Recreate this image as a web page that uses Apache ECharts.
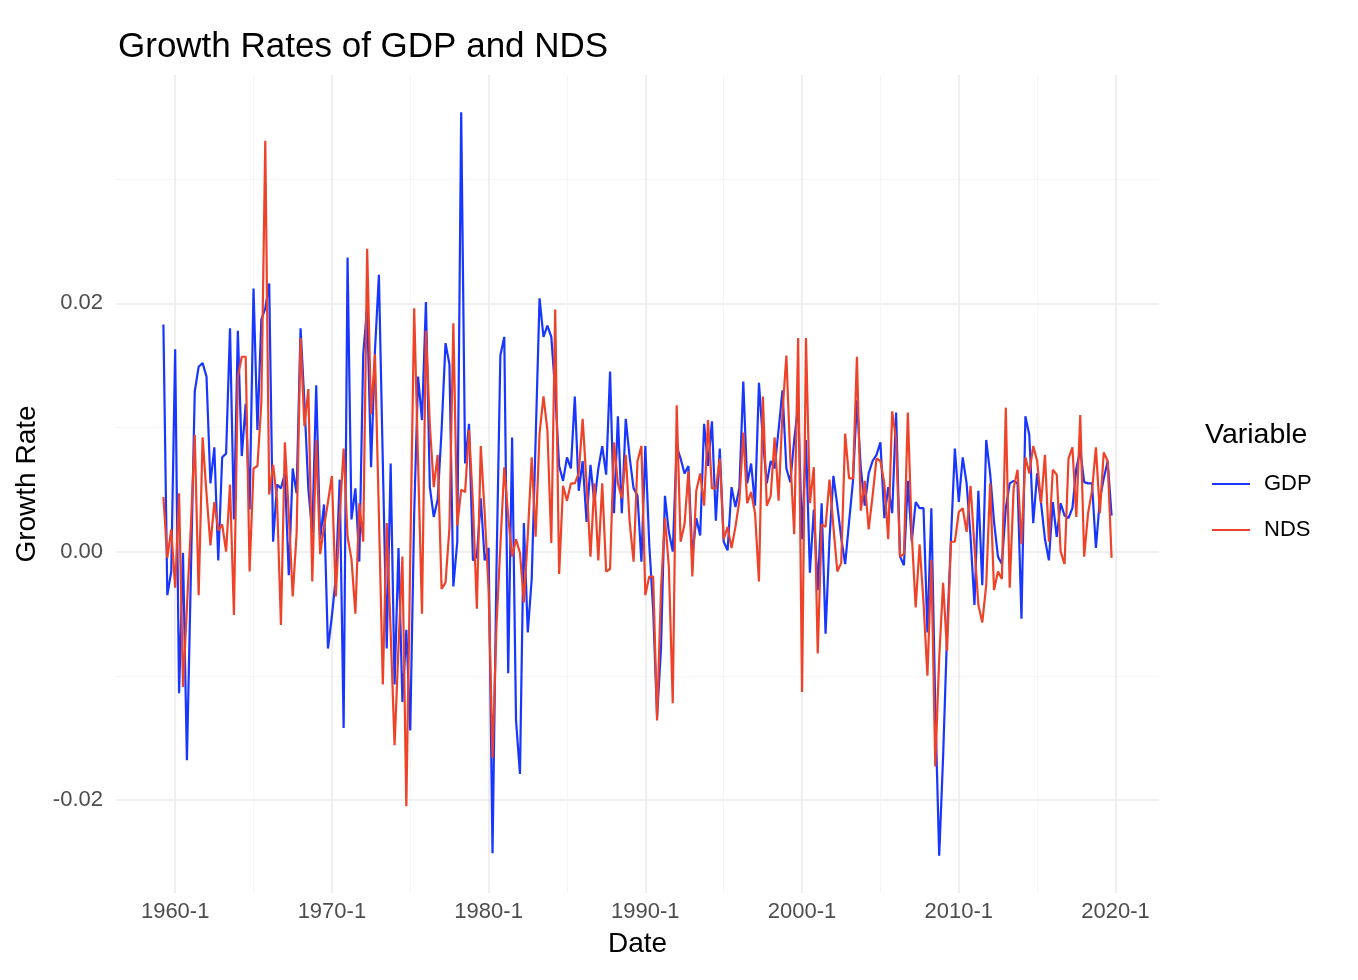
<!DOCTYPE html>
<html>
<head>
<meta charset="utf-8">
<script src="https://cdn.jsdelivr.net/npm/echarts@6/dist/echarts.min.js"></script>
<style>
  html, body { margin: 0; padding: 0; background: #fff; }
  #chart { width: 1358px; height: 980px; }
</style>
</head>
<body>
<div id="chart"></div>
<script>
// first observation: 1959 Q2, quarterly
var startYear = 1959;
var startQuarter = 2;

// quarterly growth rates
var gdp = [
  0.0183, -0.0035, -0.0016, 0.0163, -0.0114, -0.0001, -0.0168, -0.0020, 0.0129, 0.0149,
  0.0152, 0.0141, 0.0055, 0.0084, -0.0007, 0.0076, 0.0079, 0.0180, 0.0026, 0.0178,
  0.0077, 0.0119, 0.0034, 0.0212, 0.0098, 0.0187, 0.0196, 0.0216, 0.0008, 0.0054,
  0.0051, 0.0063, -0.0019, 0.0067, 0.0047, 0.0180, 0.0120, 0.0050, 0.0015, 0.0134,
  0.0010, 0.0038, -0.0078, -0.0052, -0.0021, 0.0058, -0.0142, 0.0237, 0.0026, 0.0051,
  -0.0008, 0.0159, 0.0197, 0.0068, 0.0162, 0.0223, 0.0072, -0.0078, 0.0071, -0.0107,
  0.0003, -0.0121, -0.0063, -0.0144, 0.0030, 0.0141, 0.0106, 0.0201, 0.0052, 0.0028,
  0.0042, 0.0098, 0.0168, 0.0151, -0.0028, 0.0008, 0.0354, 0.0071, 0.0103, -0.0007,
  -0.0004, 0.0043, -0.0007, 0.0003, -0.0243, -0.0015, 0.0158, 0.0173, -0.0098, 0.0092,
  -0.0136, -0.0179, 0.0023, -0.0065, -0.0022, 0.0090, 0.0204, 0.0173, 0.0182, 0.0173,
  0.0129, 0.0069, 0.0057, 0.0076, 0.0067, 0.0125, 0.0049, 0.0073, 0.0024, 0.0070,
  0.0039, 0.0067, 0.0085, 0.0062, 0.0145, 0.0031, 0.0109, 0.0031, 0.0107, 0.0076,
  0.0051, 0.0045, -0.0008, 0.0085, 0.0006, -0.0047, -0.0133, -0.0078, 0.0045, 0.0016,
  0.0000, 0.0085, 0.0075, 0.0063, 0.0069, -0.0004, 0.0027, 0.0013, 0.0103, 0.0069,
  0.0105, 0.0025, 0.0083, 0.0008, 0.0001, 0.0052, 0.0036, 0.0051, 0.0137, 0.0055,
  0.0071, 0.0037, 0.0136, 0.0090, 0.0055, 0.0073, 0.0067, 0.0098, 0.0130, 0.0067,
  0.0056, 0.0090, 0.0118, 0.0010, 0.0090, -0.0017, 0.0034, -0.0031, 0.0039, -0.0066,
  0.0010, 0.0061, 0.0037, 0.0011, -0.0010, 0.0024, 0.0057, 0.0122, 0.0067, 0.0037,
  0.0063, 0.0073, 0.0078, 0.0088, 0.0027, 0.0052, 0.0031, 0.0112, -0.0004, -0.0011,
  0.0057, 0.0008, 0.0040, 0.0035, 0.0035, -0.0065, 0.0035, -0.0125, -0.0245, -0.0165,
  -0.0067, 0.0010, 0.0083, 0.0040, 0.0076, 0.0055, 0.0012, -0.0043, 0.0049, -0.0027,
  0.0090, 0.0063, 0.0024, -0.0004, -0.0010, 0.0035, 0.0055, 0.0057, 0.0055, -0.0054,
  0.0109, 0.0094, 0.0023, 0.0063, 0.0039, 0.0010, -0.0007, 0.0040, 0.0012, 0.0039,
  0.0029, 0.0027, 0.0035, 0.0067, 0.0082, 0.0056, 0.0055, 0.0055, 0.0003, 0.0042,
  0.0059, 0.0073, 0.0029
];

var nds = [
  0.0044, -0.0005, 0.0018, -0.0029, 0.0047, -0.0109, -0.0045, 0.0020, 0.0094, -0.0035,
  0.0092, 0.0047, 0.0005, 0.0040, 0.0017, 0.0022, 0.0000, 0.0054, -0.0051, 0.0141,
  0.0157, 0.0157, -0.0016, 0.0067, 0.0069, 0.0120, 0.0331, 0.0046, 0.0070, 0.0042,
  -0.0059, 0.0088, 0.0030, -0.0036, 0.0015, 0.0172, 0.0101, 0.0131, -0.0024, 0.0090,
  -0.0002, 0.0020, 0.0040, 0.0061, -0.0036, 0.0029, 0.0083, 0.0012, -0.0006, -0.0050,
  0.0039, 0.0008, 0.0244, 0.0111, 0.0159, 0.0030, -0.0107, 0.0023, -0.0065, -0.0156,
  -0.0077, -0.0004, -0.0205, -0.0005, 0.0196, 0.0072, -0.0050, 0.0178, 0.0102, 0.0052,
  0.0078, -0.0030, -0.0025, 0.0019, 0.0184, 0.0021, 0.0050, 0.0048, 0.0098, 0.0039,
  -0.0046, 0.0085, 0.0031, -0.0031, -0.0166, -0.0060, 0.0005, 0.0068, 0.0028, -0.0004,
  0.0010, -0.0001, -0.0041, 0.0013, 0.0076, 0.0012, 0.0095, 0.0125, 0.0098, 0.0007,
  0.0195, -0.0018, 0.0053, 0.0041, 0.0055, 0.0055, 0.0063, 0.0107, 0.0055, -0.0004,
  0.0055, -0.0007, 0.0055, -0.0016, -0.0014, 0.0088, 0.0055, 0.0043, 0.0078, 0.0024,
  -0.0008, 0.0073, 0.0085, -0.0035, -0.0020, -0.0020, -0.0136, -0.0030, 0.0027, -0.0012,
  -0.0122, 0.0118, 0.0008, 0.0022, 0.0065, -0.0020, 0.0049, 0.0063, 0.0037, 0.0106,
  0.0051, 0.0051, 0.0075, 0.0010, 0.0020, 0.0003, 0.0020, 0.0041, 0.0096, 0.0039,
  0.0048, 0.0031, -0.0024, 0.0125, 0.0037, 0.0045, 0.0092, 0.0041, 0.0112, 0.0158,
  0.0075, 0.0014, 0.0172, -0.0113, 0.0172, 0.0039, 0.0068, -0.0082, 0.0022, 0.0020,
  0.0058, 0.0020, -0.0016, -0.0009, 0.0095, 0.0059, 0.0059, 0.0157, 0.0033, 0.0057,
  0.0018, 0.0045, 0.0075, 0.0073, 0.0055, 0.0010, 0.0113, 0.0090, -0.0004, -0.0002,
  0.0112, 0.0014, -0.0045, 0.0006, -0.0041, -0.0100, -0.0007, -0.0173, -0.0086, -0.0025,
  -0.0080, 0.0008, 0.0008, 0.0032, 0.0035, 0.0016, 0.0053, 0.0004, -0.0043, -0.0057,
  -0.0027, 0.0055, -0.0031, -0.0016, -0.0022, 0.0116, -0.0029, 0.0051, 0.0066, 0.0006,
  0.0076, 0.0063, 0.0085, 0.0073, 0.0039, 0.0078, 0.0008, 0.0066, 0.0062, 0.0000,
  -0.0010, 0.0075, 0.0084, 0.0028, 0.0110, -0.0004, 0.0031, 0.0049, 0.0084, 0.0031,
  0.0080, 0.0073, -0.0005
];

// axis ticks
var xMajorTicks = [1960, 1970, 1980, 1990, 2000, 2010, 2020];
var xMinorTicks = [1965, 1975, 1985, 1995, 2005, 2015];
var yMajorTicks = [-0.02, 0, 0.02];
var yMinorTicks = [-0.01, 0.01, 0.03];

var seriesNames = ['GDP', 'NDS'];
var seriesColors = ['#1736FF', '#EE4229'];

// decimal time of the i-th quarter
function quarterTime(i) {
  return startYear + (startQuarter - 1 + i) / 4;
}

function toPoints(values) {
  return values.map(function (v, i) { return [quarterTime(i), v]; });
}

// ggplot-like 5% expansion of the data range
function expand(lo, hi) {
  var pad = (hi - lo) * 0.05;
  return [lo - pad, hi + pad];
}

var allValues = gdp.concat(nds);
var yRange = expand(Math.min.apply(null, allValues), Math.max.apply(null, allValues));
var xRange = expand(quarterTime(0), quarterTime(gdp.length - 1));

var font = 'Liberation Sans, Arial, Helvetica, sans-serif';
var majorGrid = { color: '#EBEBEB', width: 1.6 };
var minorGrid = { color: '#F4F4F4', width: 0.9 };

function axisBase(range) {
  return {
    type: 'value',
    min: range[0],
    max: range[1],
    axisLine: { show: false },
    axisTick: { show: false }
  };
}

var xMain = axisBase(xRange);
xMain.position = 'bottom';
xMain.axisTick = { show: false, customValues: xMajorTicks };
xMain.axisLabel = {
  customValues: xMajorTicks,
  formatter: function (v) { return v + '-1'; },
  color: '#4D4D4D', fontSize: 22, fontFamily: font, margin: 8
};
xMain.splitLine = { show: true, lineStyle: majorGrid };
xMain.name = 'Date';
xMain.nameLocation = 'middle';
xMain.nameGap = 37;
xMain.nameTextStyle = { color: '#000', fontSize: 28, fontFamily: font };

var xMinor = axisBase(xRange);
xMinor.position = 'top';
xMinor.axisTick = { show: false, customValues: xMinorTicks };
xMinor.axisLabel = { show: false, customValues: xMinorTicks };
xMinor.splitLine = { show: true, lineStyle: minorGrid };

var yMain = axisBase(yRange);
yMain.position = 'left';
yMain.axisTick = { show: false, customValues: yMajorTicks };
yMain.axisLabel = {
  customValues: yMajorTicks,
  formatter: function (v) { return v.toFixed(2); },
  color: '#4D4D4D', fontSize: 22, fontFamily: font, margin: 13
};
yMain.splitLine = { show: true, lineStyle: majorGrid };
yMain.name = 'Growth Rate';
yMain.nameLocation = 'middle';
yMain.nameGap = 75;
yMain.nameTextStyle = { color: '#000', fontSize: 28, fontFamily: font };

var yMinor = axisBase(yRange);
yMinor.position = 'right';
yMinor.axisTick = { show: false, customValues: yMinorTicks };
yMinor.axisLabel = { show: false, customValues: yMinorTicks };
yMinor.splitLine = { show: true, lineStyle: minorGrid };

var chart = echarts.init(document.getElementById('chart'), null, { renderer: 'canvas' });

var option = {
  animation: false,
  backgroundColor: '#fff',
  title: [
    {
      text: 'Growth Rates of GDP and NDS',
      left: 113, top: 25,
      textStyle: { color: '#000', fontSize: 35, fontWeight: 'normal', fontFamily: font }
    },
    {
      text: 'Variable',
      left: 1200, top: 416,
      textStyle: { color: '#000', fontSize: 28.5, fontWeight: 'normal', fontFamily: font }
    }
  ],
  legend: {
    orient: 'vertical',
    left: 1207, top: 468,
    itemWidth: 38, itemHeight: 22, itemGap: 24,
    icon: 'path://M0,10 L38,10 L38,12 L0,12 Z',
    textStyle: { color: '#000', fontSize: 22, fontFamily: font, padding: [0, 0, 0, 9] },
    data: seriesNames
  },
  grid: { left: 116, right: 199, top: 75, bottom: 87, containLabel: false },
  xAxis: [xMain, xMinor],
  yAxis: [yMinor, yMain],
  series: [
    {
      name: seriesNames[0], type: 'line', xAxisIndex: 0, yAxisIndex: 1,
      data: toPoints(gdp), showSymbol: false, symbol: 'none',
      lineStyle: { color: seriesColors[0], width: 2.2 },
      itemStyle: { color: seriesColors[0] }
    },
    {
      name: seriesNames[1], type: 'line', xAxisIndex: 0, yAxisIndex: 1,
      data: toPoints(nds), showSymbol: false, symbol: 'none',
      lineStyle: { color: seriesColors[1], width: 2.2 },
      itemStyle: { color: seriesColors[1] }
    }
  ]
};

chart.setOption(option);
</script>
</body>
</html>
